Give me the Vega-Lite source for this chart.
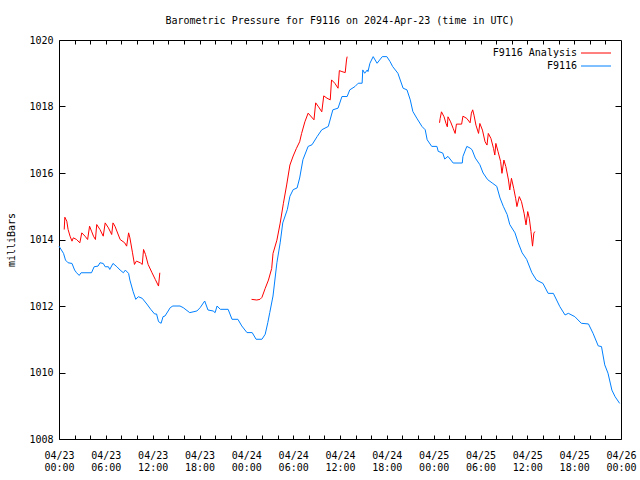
{
  "$schema": "https://vega.github.io/schema/vega-lite/v6.json",
  "width": 562,
  "height": 399,
  "autosize": {"type": "none"},
  "padding": {"left": 59, "top": 40, "right": 19, "bottom": 41},
  "background": "white",
  "config": {
    "font": "DejaVu Sans Mono",
    "view": {"stroke": "black", "strokeWidth": 1},
    "axis": {
      "domain": false,
      "grid": false,
      "tickColor": "black",
      "tickWidth": 1,
      "labelColor": "black",
      "labelFont": "DejaVu Sans Mono",
      "labelFontSize": 10,
      "titleFont": "DejaVu Sans Mono",
      "titleFontSize": 10,
      "titleFontWeight": "normal",
      "titleColor": "black"
    },
    "legend": {
      "labelFont": "DejaVu Sans Mono",
      "labelFontSize": 10,
      "labelColor": "black"
    }
  },
  "title": {
    "text": "Barometric Pressure for F9116 on 2024-Apr-23 (time in UTC)",
    "font": "DejaVu Sans Mono",
    "fontSize": 10,
    "fontWeight": "normal",
    "color": "black",
    "anchor": "middle",
    "baseline": "bottom",
    "offset": -1
  },
  "data": {
    "values": [
      {"t": "2024-04-23T00:00:00Z", "p": 1013.8, "s": "F9116", "g": "b"},
      {"t": "2024-04-23T00:35:00Z", "p": 1013.58, "s": "F9116", "g": "b"},
      {"t": "2024-04-23T00:50:00Z", "p": 1013.38, "s": "F9116", "g": "b"},
      {"t": "2024-04-23T01:10:00Z", "p": 1013.3, "s": "F9116", "g": "b"},
      {"t": "2024-04-23T01:40:00Z", "p": 1013.28, "s": "F9116", "g": "b"},
      {"t": "2024-04-23T02:00:00Z", "p": 1013.08, "s": "F9116", "g": "b"},
      {"t": "2024-04-23T02:15:00Z", "p": 1013.0, "s": "F9116", "g": "b"},
      {"t": "2024-04-23T02:35:00Z", "p": 1012.92, "s": "F9116", "g": "b"},
      {"t": "2024-04-23T02:50:00Z", "p": 1013.0, "s": "F9116", "g": "b"},
      {"t": "2024-04-23T04:10:00Z", "p": 1013.0, "s": "F9116", "g": "b"},
      {"t": "2024-04-23T04:30:00Z", "p": 1013.18, "s": "F9116", "g": "b"},
      {"t": "2024-04-23T05:00:00Z", "p": 1013.2, "s": "F9116", "g": "b"},
      {"t": "2024-04-23T05:15:00Z", "p": 1013.3, "s": "F9116", "g": "b"},
      {"t": "2024-04-23T05:40:00Z", "p": 1013.28, "s": "F9116", "g": "b"},
      {"t": "2024-04-23T05:55:00Z", "p": 1013.18, "s": "F9116", "g": "b"},
      {"t": "2024-04-23T06:20:00Z", "p": 1013.18, "s": "F9116", "g": "b"},
      {"t": "2024-04-23T06:30:00Z", "p": 1013.1, "s": "F9116", "g": "b"},
      {"t": "2024-04-23T06:55:00Z", "p": 1013.28, "s": "F9116", "g": "b"},
      {"t": "2024-04-23T07:25:00Z", "p": 1013.18, "s": "F9116", "g": "b"},
      {"t": "2024-04-23T07:50:00Z", "p": 1013.08, "s": "F9116", "g": "b"},
      {"t": "2024-04-23T08:15:00Z", "p": 1013.0, "s": "F9116", "g": "b"},
      {"t": "2024-04-23T08:30:00Z", "p": 1013.08, "s": "F9116", "g": "b"},
      {"t": "2024-04-23T08:55:00Z", "p": 1012.98, "s": "F9116", "g": "b"},
      {"t": "2024-04-23T09:05:00Z", "p": 1012.78, "s": "F9116", "g": "b"},
      {"t": "2024-04-23T09:30:00Z", "p": 1012.43, "s": "F9116", "g": "b"},
      {"t": "2024-04-23T09:50:00Z", "p": 1012.2, "s": "F9116", "g": "b"},
      {"t": "2024-04-23T10:10:00Z", "p": 1012.28, "s": "F9116", "g": "b"},
      {"t": "2024-04-23T10:40:00Z", "p": 1012.23, "s": "F9116", "g": "b"},
      {"t": "2024-04-23T11:15:00Z", "p": 1012.06, "s": "F9116", "g": "b"},
      {"t": "2024-04-23T11:45:00Z", "p": 1011.9, "s": "F9116", "g": "b"},
      {"t": "2024-04-23T12:15:00Z", "p": 1011.76, "s": "F9116", "g": "b"},
      {"t": "2024-04-23T12:30:00Z", "p": 1011.76, "s": "F9116", "g": "b"},
      {"t": "2024-04-23T12:45:00Z", "p": 1011.53, "s": "F9116", "g": "b"},
      {"t": "2024-04-23T13:05:00Z", "p": 1011.48, "s": "F9116", "g": "b"},
      {"t": "2024-04-23T13:20:00Z", "p": 1011.68, "s": "F9116", "g": "b"},
      {"t": "2024-04-23T13:35:00Z", "p": 1011.7, "s": "F9116", "g": "b"},
      {"t": "2024-04-23T14:15:00Z", "p": 1011.95, "s": "F9116", "g": "b"},
      {"t": "2024-04-23T14:35:00Z", "p": 1012.0, "s": "F9116", "g": "b"},
      {"t": "2024-04-23T15:30:00Z", "p": 1012.0, "s": "F9116", "g": "b"},
      {"t": "2024-04-23T15:55:00Z", "p": 1011.95, "s": "F9116", "g": "b"},
      {"t": "2024-04-23T16:45:00Z", "p": 1011.8, "s": "F9116", "g": "b"},
      {"t": "2024-04-23T17:40:00Z", "p": 1011.85, "s": "F9116", "g": "b"},
      {"t": "2024-04-23T18:05:00Z", "p": 1011.95, "s": "F9116", "g": "b"},
      {"t": "2024-04-23T18:40:00Z", "p": 1012.15, "s": "F9116", "g": "b"},
      {"t": "2024-04-23T19:05:00Z", "p": 1011.88, "s": "F9116", "g": "b"},
      {"t": "2024-04-23T19:45:00Z", "p": 1011.85, "s": "F9116", "g": "b"},
      {"t": "2024-04-23T20:00:00Z", "p": 1011.8, "s": "F9116", "g": "b"},
      {"t": "2024-04-23T20:15:00Z", "p": 1012.0, "s": "F9116", "g": "b"},
      {"t": "2024-04-23T20:40:00Z", "p": 1011.9, "s": "F9116", "g": "b"},
      {"t": "2024-04-23T21:40:00Z", "p": 1011.9, "s": "F9116", "g": "b"},
      {"t": "2024-04-23T22:10:00Z", "p": 1011.6, "s": "F9116", "g": "b"},
      {"t": "2024-04-23T22:55:00Z", "p": 1011.6, "s": "F9116", "g": "b"},
      {"t": "2024-04-23T23:25:00Z", "p": 1011.4, "s": "F9116", "g": "b"},
      {"t": "2024-04-24T00:05:00Z", "p": 1011.2, "s": "F9116", "g": "b"},
      {"t": "2024-04-24T00:45:00Z", "p": 1011.2, "s": "F9116", "g": "b"},
      {"t": "2024-04-24T01:15:00Z", "p": 1011.0, "s": "F9116", "g": "b"},
      {"t": "2024-04-24T02:00:00Z", "p": 1011.0, "s": "F9116", "g": "b"},
      {"t": "2024-04-24T02:25:00Z", "p": 1011.15, "s": "F9116", "g": "b"},
      {"t": "2024-04-24T02:45:00Z", "p": 1011.5, "s": "F9116", "g": "b"},
      {"t": "2024-04-24T03:00:00Z", "p": 1011.8, "s": "F9116", "g": "b"},
      {"t": "2024-04-24T03:25:00Z", "p": 1012.3, "s": "F9116", "g": "b"},
      {"t": "2024-04-24T03:55:00Z", "p": 1013.3, "s": "F9116", "g": "b"},
      {"t": "2024-04-24T04:20:00Z", "p": 1013.9, "s": "F9116", "g": "b"},
      {"t": "2024-04-24T04:40:00Z", "p": 1014.5, "s": "F9116", "g": "b"},
      {"t": "2024-04-24T05:15:00Z", "p": 1014.9, "s": "F9116", "g": "b"},
      {"t": "2024-04-24T05:35:00Z", "p": 1015.3, "s": "F9116", "g": "b"},
      {"t": "2024-04-24T06:00:00Z", "p": 1015.5, "s": "F9116", "g": "b"},
      {"t": "2024-04-24T06:30:00Z", "p": 1015.55, "s": "F9116", "g": "b"},
      {"t": "2024-04-24T06:50:00Z", "p": 1015.85, "s": "F9116", "g": "b"},
      {"t": "2024-04-24T07:15:00Z", "p": 1016.4, "s": "F9116", "g": "b"},
      {"t": "2024-04-24T07:55:00Z", "p": 1016.8, "s": "F9116", "g": "b"},
      {"t": "2024-04-24T08:25:00Z", "p": 1016.85, "s": "F9116", "g": "b"},
      {"t": "2024-04-24T09:05:00Z", "p": 1017.1, "s": "F9116", "g": "b"},
      {"t": "2024-04-24T09:40:00Z", "p": 1017.3, "s": "F9116", "g": "b"},
      {"t": "2024-04-24T10:30:00Z", "p": 1017.4, "s": "F9116", "g": "b"},
      {"t": "2024-04-24T11:05:00Z", "p": 1017.9, "s": "F9116", "g": "b"},
      {"t": "2024-04-24T11:45:00Z", "p": 1017.95, "s": "F9116", "g": "b"},
      {"t": "2024-04-24T12:15:00Z", "p": 1018.3, "s": "F9116", "g": "b"},
      {"t": "2024-04-24T12:55:00Z", "p": 1018.3, "s": "F9116", "g": "b"},
      {"t": "2024-04-24T13:15:00Z", "p": 1018.5, "s": "F9116", "g": "b"},
      {"t": "2024-04-24T13:55:00Z", "p": 1018.6, "s": "F9116", "g": "b"},
      {"t": "2024-04-24T14:20:00Z", "p": 1018.7, "s": "F9116", "g": "b"},
      {"t": "2024-04-24T14:50:00Z", "p": 1018.7, "s": "F9116", "g": "b"},
      {"t": "2024-04-24T14:55:00Z", "p": 1019.1, "s": "F9116", "g": "b"},
      {"t": "2024-04-24T15:10:00Z", "p": 1019.0, "s": "F9116", "g": "b"},
      {"t": "2024-04-24T15:30:00Z", "p": 1019.1, "s": "F9116", "g": "b"},
      {"t": "2024-04-24T15:35:00Z", "p": 1019.05, "s": "F9116", "g": "b"},
      {"t": "2024-04-24T15:50:00Z", "p": 1019.3, "s": "F9116", "g": "b"},
      {"t": "2024-04-24T16:15:00Z", "p": 1019.5, "s": "F9116", "g": "b"},
      {"t": "2024-04-24T16:45:00Z", "p": 1019.3, "s": "F9116", "g": "b"},
      {"t": "2024-04-24T17:25:00Z", "p": 1019.5, "s": "F9116", "g": "b"},
      {"t": "2024-04-24T18:00:00Z", "p": 1019.5, "s": "F9116", "g": "b"},
      {"t": "2024-04-24T18:25:00Z", "p": 1019.35, "s": "F9116", "g": "b"},
      {"t": "2024-04-24T18:45:00Z", "p": 1019.2, "s": "F9116", "g": "b"},
      {"t": "2024-04-24T19:25:00Z", "p": 1019.0, "s": "F9116", "g": "b"},
      {"t": "2024-04-24T20:05:00Z", "p": 1018.55, "s": "F9116", "g": "b"},
      {"t": "2024-04-24T20:35:00Z", "p": 1018.5, "s": "F9116", "g": "b"},
      {"t": "2024-04-24T21:00:00Z", "p": 1018.2, "s": "F9116", "g": "b"},
      {"t": "2024-04-24T21:20:00Z", "p": 1017.85, "s": "F9116", "g": "b"},
      {"t": "2024-04-24T21:50:00Z", "p": 1017.65, "s": "F9116", "g": "b"},
      {"t": "2024-04-24T22:30:00Z", "p": 1017.4, "s": "F9116", "g": "b"},
      {"t": "2024-04-24T22:55:00Z", "p": 1017.3, "s": "F9116", "g": "b"},
      {"t": "2024-04-24T23:10:00Z", "p": 1017.0, "s": "F9116", "g": "b"},
      {"t": "2024-04-24T23:45:00Z", "p": 1016.8, "s": "F9116", "g": "b"},
      {"t": "2024-04-25T00:25:00Z", "p": 1016.8, "s": "F9116", "g": "b"},
      {"t": "2024-04-25T00:35:00Z", "p": 1016.65, "s": "F9116", "g": "b"},
      {"t": "2024-04-25T01:10:00Z", "p": 1016.6, "s": "F9116", "g": "b"},
      {"t": "2024-04-25T01:25:00Z", "p": 1016.42, "s": "F9116", "g": "b"},
      {"t": "2024-04-25T01:50:00Z", "p": 1016.5, "s": "F9116", "g": "b"},
      {"t": "2024-04-25T02:30:00Z", "p": 1016.3, "s": "F9116", "g": "b"},
      {"t": "2024-04-25T03:40:00Z", "p": 1016.3, "s": "F9116", "g": "b"},
      {"t": "2024-04-25T03:45:00Z", "p": 1016.5, "s": "F9116", "g": "b"},
      {"t": "2024-04-25T04:15:00Z", "p": 1016.8, "s": "F9116", "g": "b"},
      {"t": "2024-04-25T04:40:00Z", "p": 1016.75, "s": "F9116", "g": "b"},
      {"t": "2024-04-25T04:55:00Z", "p": 1016.7, "s": "F9116", "g": "b"},
      {"t": "2024-04-25T05:20:00Z", "p": 1016.45, "s": "F9116", "g": "b"},
      {"t": "2024-04-25T05:55:00Z", "p": 1016.25, "s": "F9116", "g": "b"},
      {"t": "2024-04-25T06:20:00Z", "p": 1016.0, "s": "F9116", "g": "b"},
      {"t": "2024-04-25T06:55:00Z", "p": 1015.8, "s": "F9116", "g": "b"},
      {"t": "2024-04-25T07:30:00Z", "p": 1015.7, "s": "F9116", "g": "b"},
      {"t": "2024-04-25T08:05:00Z", "p": 1015.6, "s": "F9116", "g": "b"},
      {"t": "2024-04-25T08:30:00Z", "p": 1015.25, "s": "F9116", "g": "b"},
      {"t": "2024-04-25T08:55:00Z", "p": 1015.0, "s": "F9116", "g": "b"},
      {"t": "2024-04-25T09:25:00Z", "p": 1014.75, "s": "F9116", "g": "b"},
      {"t": "2024-04-25T09:45:00Z", "p": 1014.45, "s": "F9116", "g": "b"},
      {"t": "2024-04-25T10:25:00Z", "p": 1014.2, "s": "F9116", "g": "b"},
      {"t": "2024-04-25T10:50:00Z", "p": 1013.9, "s": "F9116", "g": "b"},
      {"t": "2024-04-25T11:20:00Z", "p": 1013.6, "s": "F9116", "g": "b"},
      {"t": "2024-04-25T11:55:00Z", "p": 1013.4, "s": "F9116", "g": "b"},
      {"t": "2024-04-25T12:35:00Z", "p": 1013.0, "s": "F9116", "g": "b"},
      {"t": "2024-04-25T13:10:00Z", "p": 1012.78, "s": "F9116", "g": "b"},
      {"t": "2024-04-25T14:00:00Z", "p": 1012.68, "s": "F9116", "g": "b"},
      {"t": "2024-04-25T14:40:00Z", "p": 1012.38, "s": "F9116", "g": "b"},
      {"t": "2024-04-25T15:20:00Z", "p": 1012.38, "s": "F9116", "g": "b"},
      {"t": "2024-04-25T16:10:00Z", "p": 1011.98, "s": "F9116", "g": "b"},
      {"t": "2024-04-25T16:50:00Z", "p": 1011.73, "s": "F9116", "g": "b"},
      {"t": "2024-04-25T17:15:00Z", "p": 1011.78, "s": "F9116", "g": "b"},
      {"t": "2024-04-25T18:05:00Z", "p": 1011.68, "s": "F9116", "g": "b"},
      {"t": "2024-04-25T18:55:00Z", "p": 1011.48, "s": "F9116", "g": "b"},
      {"t": "2024-04-25T19:50:00Z", "p": 1011.46, "s": "F9116", "g": "b"},
      {"t": "2024-04-25T20:25:00Z", "p": 1011.18, "s": "F9116", "g": "b"},
      {"t": "2024-04-25T21:05:00Z", "p": 1010.8, "s": "F9116", "g": "b"},
      {"t": "2024-04-25T21:30:00Z", "p": 1010.78, "s": "F9116", "g": "b"},
      {"t": "2024-04-25T21:55:00Z", "p": 1010.23, "s": "F9116", "g": "b"},
      {"t": "2024-04-25T22:20:00Z", "p": 1009.98, "s": "F9116", "g": "b"},
      {"t": "2024-04-25T22:50:00Z", "p": 1009.47, "s": "F9116", "g": "b"},
      {"t": "2024-04-25T23:15:00Z", "p": 1009.27, "s": "F9116", "g": "b"},
      {"t": "2024-04-25T23:50:00Z", "p": 1009.07, "s": "F9116", "g": "b"},
      {"t": "2024-04-23T00:40:00Z", "p": 1014.3, "s": "F9116 Analysis", "g": "r1"},
      {"t": "2024-04-23T00:45:00Z", "p": 1014.67, "s": "F9116 Analysis", "g": "r1"},
      {"t": "2024-04-23T01:00:00Z", "p": 1014.55, "s": "F9116 Analysis", "g": "r1"},
      {"t": "2024-04-23T01:10:00Z", "p": 1014.3, "s": "F9116 Analysis", "g": "r1"},
      {"t": "2024-04-23T01:25:00Z", "p": 1014.1, "s": "F9116 Analysis", "g": "r1"},
      {"t": "2024-04-23T01:40:00Z", "p": 1013.95, "s": "F9116 Analysis", "g": "r1"},
      {"t": "2024-04-23T01:50:00Z", "p": 1014.05, "s": "F9116 Analysis", "g": "r1"},
      {"t": "2024-04-23T02:15:00Z", "p": 1014.0, "s": "F9116 Analysis", "g": "r1"},
      {"t": "2024-04-23T02:40:00Z", "p": 1013.9, "s": "F9116 Analysis", "g": "r1"},
      {"t": "2024-04-23T02:55:00Z", "p": 1014.2, "s": "F9116 Analysis", "g": "r1"},
      {"t": "2024-04-23T03:20:00Z", "p": 1014.1, "s": "F9116 Analysis", "g": "r1"},
      {"t": "2024-04-23T03:40:00Z", "p": 1014.0, "s": "F9116 Analysis", "g": "r1"},
      {"t": "2024-04-23T03:55:00Z", "p": 1014.4, "s": "F9116 Analysis", "g": "r1"},
      {"t": "2024-04-23T04:10:00Z", "p": 1014.25, "s": "F9116 Analysis", "g": "r1"},
      {"t": "2024-04-23T04:25:00Z", "p": 1014.1, "s": "F9116 Analysis", "g": "r1"},
      {"t": "2024-04-23T04:40:00Z", "p": 1014.0, "s": "F9116 Analysis", "g": "r1"},
      {"t": "2024-04-23T04:50:00Z", "p": 1014.45, "s": "F9116 Analysis", "g": "r1"},
      {"t": "2024-04-23T05:15:00Z", "p": 1014.3, "s": "F9116 Analysis", "g": "r1"},
      {"t": "2024-04-23T05:40:00Z", "p": 1014.1, "s": "F9116 Analysis", "g": "r1"},
      {"t": "2024-04-23T05:55:00Z", "p": 1014.5, "s": "F9116 Analysis", "g": "r1"},
      {"t": "2024-04-23T06:20:00Z", "p": 1014.35, "s": "F9116 Analysis", "g": "r1"},
      {"t": "2024-04-23T06:45:00Z", "p": 1014.15, "s": "F9116 Analysis", "g": "r1"},
      {"t": "2024-04-23T06:55:00Z", "p": 1014.5, "s": "F9116 Analysis", "g": "r1"},
      {"t": "2024-04-23T07:10:00Z", "p": 1014.4, "s": "F9116 Analysis", "g": "r1"},
      {"t": "2024-04-23T07:50:00Z", "p": 1014.0, "s": "F9116 Analysis", "g": "r1"},
      {"t": "2024-04-23T08:25:00Z", "p": 1013.9, "s": "F9116 Analysis", "g": "r1"},
      {"t": "2024-04-23T08:40:00Z", "p": 1013.8, "s": "F9116 Analysis", "g": "r1"},
      {"t": "2024-04-23T08:55:00Z", "p": 1014.2, "s": "F9116 Analysis", "g": "r1"},
      {"t": "2024-04-23T09:05:00Z", "p": 1014.05, "s": "F9116 Analysis", "g": "r1"},
      {"t": "2024-04-23T09:25:00Z", "p": 1013.6, "s": "F9116 Analysis", "g": "r1"},
      {"t": "2024-04-23T09:40:00Z", "p": 1013.25, "s": "F9116 Analysis", "g": "r1"},
      {"t": "2024-04-23T09:55:00Z", "p": 1013.35, "s": "F9116 Analysis", "g": "r1"},
      {"t": "2024-04-23T10:25:00Z", "p": 1013.3, "s": "F9116 Analysis", "g": "r1"},
      {"t": "2024-04-23T10:40:00Z", "p": 1013.25, "s": "F9116 Analysis", "g": "r1"},
      {"t": "2024-04-23T10:50:00Z", "p": 1013.7, "s": "F9116 Analysis", "g": "r1"},
      {"t": "2024-04-23T11:05:00Z", "p": 1013.55, "s": "F9116 Analysis", "g": "r1"},
      {"t": "2024-04-23T11:25:00Z", "p": 1013.25, "s": "F9116 Analysis", "g": "r1"},
      {"t": "2024-04-23T11:55:00Z", "p": 1013.0, "s": "F9116 Analysis", "g": "r1"},
      {"t": "2024-04-23T12:20:00Z", "p": 1012.8, "s": "F9116 Analysis", "g": "r1"},
      {"t": "2024-04-23T12:45:00Z", "p": 1012.6, "s": "F9116 Analysis", "g": "r1"},
      {"t": "2024-04-23T12:55:00Z", "p": 1013.0, "s": "F9116 Analysis", "g": "r1"},
      {"t": "2024-04-24T00:40:00Z", "p": 1012.2, "s": "F9116 Analysis", "g": "r2"},
      {"t": "2024-04-24T01:20:00Z", "p": 1012.18, "s": "F9116 Analysis", "g": "r2"},
      {"t": "2024-04-24T01:45:00Z", "p": 1012.2, "s": "F9116 Analysis", "g": "r2"},
      {"t": "2024-04-24T02:00:00Z", "p": 1012.26, "s": "F9116 Analysis", "g": "r2"},
      {"t": "2024-04-24T02:25:00Z", "p": 1012.53, "s": "F9116 Analysis", "g": "r2"},
      {"t": "2024-04-24T02:50:00Z", "p": 1012.78, "s": "F9116 Analysis", "g": "r2"},
      {"t": "2024-04-24T03:15:00Z", "p": 1013.13, "s": "F9116 Analysis", "g": "r2"},
      {"t": "2024-04-24T03:25:00Z", "p": 1013.58, "s": "F9116 Analysis", "g": "r2"},
      {"t": "2024-04-24T03:55:00Z", "p": 1013.98, "s": "F9116 Analysis", "g": "r2"},
      {"t": "2024-04-24T04:20:00Z", "p": 1014.49, "s": "F9116 Analysis", "g": "r2"},
      {"t": "2024-04-24T04:45:00Z", "p": 1015.09, "s": "F9116 Analysis", "g": "r2"},
      {"t": "2024-04-24T05:10:00Z", "p": 1015.64, "s": "F9116 Analysis", "g": "r2"},
      {"t": "2024-04-24T05:35:00Z", "p": 1016.24, "s": "F9116 Analysis", "g": "r2"},
      {"t": "2024-04-24T06:00:00Z", "p": 1016.51, "s": "F9116 Analysis", "g": "r2"},
      {"t": "2024-04-24T06:25:00Z", "p": 1016.74, "s": "F9116 Analysis", "g": "r2"},
      {"t": "2024-04-24T06:50:00Z", "p": 1016.94, "s": "F9116 Analysis", "g": "r2"},
      {"t": "2024-04-24T07:05:00Z", "p": 1017.19, "s": "F9116 Analysis", "g": "r2"},
      {"t": "2024-04-24T07:30:00Z", "p": 1017.54, "s": "F9116 Analysis", "g": "r2"},
      {"t": "2024-04-24T07:55:00Z", "p": 1017.8, "s": "F9116 Analysis", "g": "r2"},
      {"t": "2024-04-24T08:40:00Z", "p": 1017.6, "s": "F9116 Analysis", "g": "r2"},
      {"t": "2024-04-24T08:53:00Z", "p": 1018.11, "s": "F9116 Analysis", "g": "r2"},
      {"t": "2024-04-24T09:15:00Z", "p": 1017.99, "s": "F9116 Analysis", "g": "r2"},
      {"t": "2024-04-24T09:40:00Z", "p": 1017.84, "s": "F9116 Analysis", "g": "r2"},
      {"t": "2024-04-24T09:55:00Z", "p": 1018.32, "s": "F9116 Analysis", "g": "r2"},
      {"t": "2024-04-24T10:20:00Z", "p": 1018.25, "s": "F9116 Analysis", "g": "r2"},
      {"t": "2024-04-24T10:45:00Z", "p": 1018.2, "s": "F9116 Analysis", "g": "r2"},
      {"t": "2024-04-24T10:55:00Z", "p": 1018.8, "s": "F9116 Analysis", "g": "r2"},
      {"t": "2024-04-24T11:20:00Z", "p": 1018.7, "s": "F9116 Analysis", "g": "r2"},
      {"t": "2024-04-24T11:45:00Z", "p": 1018.55, "s": "F9116 Analysis", "g": "r2"},
      {"t": "2024-04-24T11:55:00Z", "p": 1019.08, "s": "F9116 Analysis", "g": "r2"},
      {"t": "2024-04-24T12:15:00Z", "p": 1019.05, "s": "F9116 Analysis", "g": "r2"},
      {"t": "2024-04-24T12:40:00Z", "p": 1019.02, "s": "F9116 Analysis", "g": "r2"},
      {"t": "2024-04-24T12:50:00Z", "p": 1019.4, "s": "F9116 Analysis", "g": "r2"},
      {"t": "2024-04-24T12:55:00Z", "p": 1019.5, "s": "F9116 Analysis", "g": "r2"},
      {"t": "2024-04-25T00:45:00Z", "p": 1017.51, "s": "F9116 Analysis", "g": "r3"},
      {"t": "2024-04-25T00:50:00Z", "p": 1017.64, "s": "F9116 Analysis", "g": "r3"},
      {"t": "2024-04-25T01:00:00Z", "p": 1017.84, "s": "F9116 Analysis", "g": "r3"},
      {"t": "2024-04-25T01:20:00Z", "p": 1017.69, "s": "F9116 Analysis", "g": "r3"},
      {"t": "2024-04-25T01:35:00Z", "p": 1017.49, "s": "F9116 Analysis", "g": "r3"},
      {"t": "2024-04-25T01:45:00Z", "p": 1017.39, "s": "F9116 Analysis", "g": "r3"},
      {"t": "2024-04-25T01:50:00Z", "p": 1017.69, "s": "F9116 Analysis", "g": "r3"},
      {"t": "2024-04-25T02:10:00Z", "p": 1017.54, "s": "F9116 Analysis", "g": "r3"},
      {"t": "2024-04-25T02:30:00Z", "p": 1017.34, "s": "F9116 Analysis", "g": "r3"},
      {"t": "2024-04-25T02:45:00Z", "p": 1017.19, "s": "F9116 Analysis", "g": "r3"},
      {"t": "2024-04-25T02:55:00Z", "p": 1017.47, "s": "F9116 Analysis", "g": "r3"},
      {"t": "2024-04-25T03:35:00Z", "p": 1017.47, "s": "F9116 Analysis", "g": "r3"},
      {"t": "2024-04-25T03:45:00Z", "p": 1017.71, "s": "F9116 Analysis", "g": "r3"},
      {"t": "2024-04-25T04:15:00Z", "p": 1017.64, "s": "F9116 Analysis", "g": "r3"},
      {"t": "2024-04-25T04:40:00Z", "p": 1017.51, "s": "F9116 Analysis", "g": "r3"},
      {"t": "2024-04-25T04:50:00Z", "p": 1017.8, "s": "F9116 Analysis", "g": "r3"},
      {"t": "2024-04-25T05:00:00Z", "p": 1017.9, "s": "F9116 Analysis", "g": "r3"},
      {"t": "2024-04-25T05:10:00Z", "p": 1017.74, "s": "F9116 Analysis", "g": "r3"},
      {"t": "2024-04-25T05:25:00Z", "p": 1017.44, "s": "F9116 Analysis", "g": "r3"},
      {"t": "2024-04-25T05:45:00Z", "p": 1017.19, "s": "F9116 Analysis", "g": "r3"},
      {"t": "2024-04-25T05:55:00Z", "p": 1017.49, "s": "F9116 Analysis", "g": "r3"},
      {"t": "2024-04-25T06:15:00Z", "p": 1017.29, "s": "F9116 Analysis", "g": "r3"},
      {"t": "2024-04-25T06:35:00Z", "p": 1016.94, "s": "F9116 Analysis", "g": "r3"},
      {"t": "2024-04-25T06:50:00Z", "p": 1016.84, "s": "F9116 Analysis", "g": "r3"},
      {"t": "2024-04-25T07:00:00Z", "p": 1017.19, "s": "F9116 Analysis", "g": "r3"},
      {"t": "2024-04-25T07:20:00Z", "p": 1017.04, "s": "F9116 Analysis", "g": "r3"},
      {"t": "2024-04-25T07:40:00Z", "p": 1016.74, "s": "F9116 Analysis", "g": "r3"},
      {"t": "2024-04-25T07:50:00Z", "p": 1016.54, "s": "F9116 Analysis", "g": "r3"},
      {"t": "2024-04-25T07:58:00Z", "p": 1016.89, "s": "F9116 Analysis", "g": "r3"},
      {"t": "2024-04-25T08:15:00Z", "p": 1016.64, "s": "F9116 Analysis", "g": "r3"},
      {"t": "2024-04-25T08:35:00Z", "p": 1016.34, "s": "F9116 Analysis", "g": "r3"},
      {"t": "2024-04-25T08:45:00Z", "p": 1015.99, "s": "F9116 Analysis", "g": "r3"},
      {"t": "2024-04-25T09:00:00Z", "p": 1016.39, "s": "F9116 Analysis", "g": "r3"},
      {"t": "2024-04-25T09:15:00Z", "p": 1016.19, "s": "F9116 Analysis", "g": "r3"},
      {"t": "2024-04-25T09:35:00Z", "p": 1015.79, "s": "F9116 Analysis", "g": "r3"},
      {"t": "2024-04-25T09:45:00Z", "p": 1015.49, "s": "F9116 Analysis", "g": "r3"},
      {"t": "2024-04-25T09:58:00Z", "p": 1015.84, "s": "F9116 Analysis", "g": "r3"},
      {"t": "2024-04-25T10:15:00Z", "p": 1015.54, "s": "F9116 Analysis", "g": "r3"},
      {"t": "2024-04-25T10:30:00Z", "p": 1015.24, "s": "F9116 Analysis", "g": "r3"},
      {"t": "2024-04-25T10:40:00Z", "p": 1014.99, "s": "F9116 Analysis", "g": "r3"},
      {"t": "2024-04-25T10:58:00Z", "p": 1015.29, "s": "F9116 Analysis", "g": "r3"},
      {"t": "2024-04-25T11:15:00Z", "p": 1015.14, "s": "F9116 Analysis", "g": "r3"},
      {"t": "2024-04-25T11:35:00Z", "p": 1014.79, "s": "F9116 Analysis", "g": "r3"},
      {"t": "2024-04-25T11:50:00Z", "p": 1014.44, "s": "F9116 Analysis", "g": "r3"},
      {"t": "2024-04-25T12:03:00Z", "p": 1014.84, "s": "F9116 Analysis", "g": "r3"},
      {"t": "2024-04-25T12:15:00Z", "p": 1014.64, "s": "F9116 Analysis", "g": "r3"},
      {"t": "2024-04-25T12:28:00Z", "p": 1014.24, "s": "F9116 Analysis", "g": "r3"},
      {"t": "2024-04-25T12:40:00Z", "p": 1013.8, "s": "F9116 Analysis", "g": "r3"},
      {"t": "2024-04-25T12:50:00Z", "p": 1014.19, "s": "F9116 Analysis", "g": "r3"},
      {"t": "2024-04-25T12:58:00Z", "p": 1014.24, "s": "F9116 Analysis", "g": "r3"}
    ]
  },
  "layer": [
    {
      "mark": {"type": "line", "strokeWidth": 1},
      "encoding": {
        "x": {
          "field": "t",
          "type": "temporal",
          "scale": {
            "type": "utc",
            "nice": false,
            "domain": [
              {"year": 2024, "month": 4, "date": 23, "hours": 0, "utc": true},
              {"year": 2024, "month": 4, "date": 26, "hours": 0, "utc": true}
            ]
          },
          "axis": {
            "title": null,
            "orient": "bottom",
            "values": [
              {"year": 2024, "month": 4, "date": 23, "hours": 0, "utc": true},
              {"year": 2024, "month": 4, "date": 23, "hours": 2, "utc": true},
              {"year": 2024, "month": 4, "date": 23, "hours": 4, "utc": true},
              {"year": 2024, "month": 4, "date": 23, "hours": 6, "utc": true},
              {"year": 2024, "month": 4, "date": 23, "hours": 8, "utc": true},
              {"year": 2024, "month": 4, "date": 23, "hours": 10, "utc": true},
              {"year": 2024, "month": 4, "date": 23, "hours": 12, "utc": true},
              {"year": 2024, "month": 4, "date": 23, "hours": 14, "utc": true},
              {"year": 2024, "month": 4, "date": 23, "hours": 16, "utc": true},
              {"year": 2024, "month": 4, "date": 23, "hours": 18, "utc": true},
              {"year": 2024, "month": 4, "date": 23, "hours": 20, "utc": true},
              {"year": 2024, "month": 4, "date": 23, "hours": 22, "utc": true},
              {"year": 2024, "month": 4, "date": 24, "hours": 0, "utc": true},
              {"year": 2024, "month": 4, "date": 24, "hours": 2, "utc": true},
              {"year": 2024, "month": 4, "date": 24, "hours": 4, "utc": true},
              {"year": 2024, "month": 4, "date": 24, "hours": 6, "utc": true},
              {"year": 2024, "month": 4, "date": 24, "hours": 8, "utc": true},
              {"year": 2024, "month": 4, "date": 24, "hours": 10, "utc": true},
              {"year": 2024, "month": 4, "date": 24, "hours": 12, "utc": true},
              {"year": 2024, "month": 4, "date": 24, "hours": 14, "utc": true},
              {"year": 2024, "month": 4, "date": 24, "hours": 16, "utc": true},
              {"year": 2024, "month": 4, "date": 24, "hours": 18, "utc": true},
              {"year": 2024, "month": 4, "date": 24, "hours": 20, "utc": true},
              {"year": 2024, "month": 4, "date": 24, "hours": 22, "utc": true},
              {"year": 2024, "month": 4, "date": 25, "hours": 0, "utc": true},
              {"year": 2024, "month": 4, "date": 25, "hours": 2, "utc": true},
              {"year": 2024, "month": 4, "date": 25, "hours": 4, "utc": true},
              {"year": 2024, "month": 4, "date": 25, "hours": 6, "utc": true},
              {"year": 2024, "month": 4, "date": 25, "hours": 8, "utc": true},
              {"year": 2024, "month": 4, "date": 25, "hours": 10, "utc": true},
              {"year": 2024, "month": 4, "date": 25, "hours": 12, "utc": true},
              {"year": 2024, "month": 4, "date": 25, "hours": 14, "utc": true},
              {"year": 2024, "month": 4, "date": 25, "hours": 16, "utc": true},
              {"year": 2024, "month": 4, "date": 25, "hours": 18, "utc": true},
              {"year": 2024, "month": 4, "date": 25, "hours": 20, "utc": true},
              {"year": 2024, "month": 4, "date": 25, "hours": 22, "utc": true},
              {"year": 2024, "month": 4, "date": 26, "hours": 0, "utc": true}
            ],
            "tickSize": -4,
            "labelExpr": "utchours(datum.value) % 6 == 0 ? [utcFormat(datum.value, '%m/%d'), utcFormat(datum.value, '%H:%M')] : ''",
            "labelOverlap": false,
            "labelFlush": false,
            "labelBound": false,
            "labelPadding": 15,
            "labelLineHeight": 12,
            "labelBaseline": "top"
          }
        },
        "y": {
          "field": "p",
          "type": "quantitative",
          "scale": {"domain": [1008, 1020], "nice": false, "zero": false},
          "axis": {
            "title": "milliBars",
            "orient": "left",
            "values": [1008, 1010, 1012, 1014, 1016, 1018, 1020],
            "format": "d",
            "tickSize": -6,
            "labelPadding": 12,
            "titlePadding": 12
          }
        },
        "color": {
          "field": "s",
          "type": "nominal",
          "scale": {"domain": ["F9116 Analysis", "F9116"], "range": ["#ff0000", "#0080ff"]},
          "legend": {
            "title": null,
            "orient": "top-right",
            "offset": 8,
            "padding": 0,
            "symbolType": "M-5,0H5",
            "symbolSize": 36,
            "symbolStrokeWidth": 1,
            "labelAlign": "right",
            "labelOffset": -24,
            "rowPadding": 3
          }
        },
        "detail": {"field": "g", "type": "nominal"}
      }
    },
    {
      "mark": {"type": "line", "strokeOpacity": 0},
      "encoding": {
        "x": {
          "field": "t",
          "type": "temporal",
          "axis": {
            "title": null,
            "orient": "top",
            "values": [
              {"year": 2024, "month": 4, "date": 23, "hours": 2, "utc": true},
              {"year": 2024, "month": 4, "date": 23, "hours": 4, "utc": true},
              {"year": 2024, "month": 4, "date": 23, "hours": 6, "utc": true},
              {"year": 2024, "month": 4, "date": 23, "hours": 8, "utc": true},
              {"year": 2024, "month": 4, "date": 23, "hours": 10, "utc": true},
              {"year": 2024, "month": 4, "date": 23, "hours": 12, "utc": true},
              {"year": 2024, "month": 4, "date": 23, "hours": 14, "utc": true},
              {"year": 2024, "month": 4, "date": 23, "hours": 16, "utc": true},
              {"year": 2024, "month": 4, "date": 23, "hours": 18, "utc": true},
              {"year": 2024, "month": 4, "date": 23, "hours": 20, "utc": true},
              {"year": 2024, "month": 4, "date": 23, "hours": 22, "utc": true},
              {"year": 2024, "month": 4, "date": 24, "hours": 0, "utc": true},
              {"year": 2024, "month": 4, "date": 24, "hours": 2, "utc": true},
              {"year": 2024, "month": 4, "date": 24, "hours": 4, "utc": true},
              {"year": 2024, "month": 4, "date": 24, "hours": 6, "utc": true},
              {"year": 2024, "month": 4, "date": 24, "hours": 8, "utc": true},
              {"year": 2024, "month": 4, "date": 24, "hours": 10, "utc": true},
              {"year": 2024, "month": 4, "date": 24, "hours": 12, "utc": true},
              {"year": 2024, "month": 4, "date": 24, "hours": 14, "utc": true},
              {"year": 2024, "month": 4, "date": 24, "hours": 16, "utc": true},
              {"year": 2024, "month": 4, "date": 24, "hours": 18, "utc": true},
              {"year": 2024, "month": 4, "date": 24, "hours": 20, "utc": true},
              {"year": 2024, "month": 4, "date": 24, "hours": 22, "utc": true},
              {"year": 2024, "month": 4, "date": 25, "hours": 0, "utc": true},
              {"year": 2024, "month": 4, "date": 25, "hours": 2, "utc": true},
              {"year": 2024, "month": 4, "date": 25, "hours": 4, "utc": true},
              {"year": 2024, "month": 4, "date": 25, "hours": 6, "utc": true},
              {"year": 2024, "month": 4, "date": 25, "hours": 8, "utc": true},
              {"year": 2024, "month": 4, "date": 25, "hours": 10, "utc": true},
              {"year": 2024, "month": 4, "date": 25, "hours": 12, "utc": true},
              {"year": 2024, "month": 4, "date": 25, "hours": 14, "utc": true},
              {"year": 2024, "month": 4, "date": 25, "hours": 16, "utc": true},
              {"year": 2024, "month": 4, "date": 25, "hours": 18, "utc": true},
              {"year": 2024, "month": 4, "date": 25, "hours": 20, "utc": true},
              {"year": 2024, "month": 4, "date": 25, "hours": 22, "utc": true}
            ],
            "tickSize": -4,
            "labels": false
          }
        },
        "y": {
          "field": "p",
          "type": "quantitative",
          "axis": {
            "title": null,
            "orient": "right",
            "values": [1010, 1012, 1014, 1016, 1018],
            "tickSize": -6,
            "labels": false
          }
        },
        "detail": {"field": "g", "type": "nominal"}
      }
    }
  ]
}
